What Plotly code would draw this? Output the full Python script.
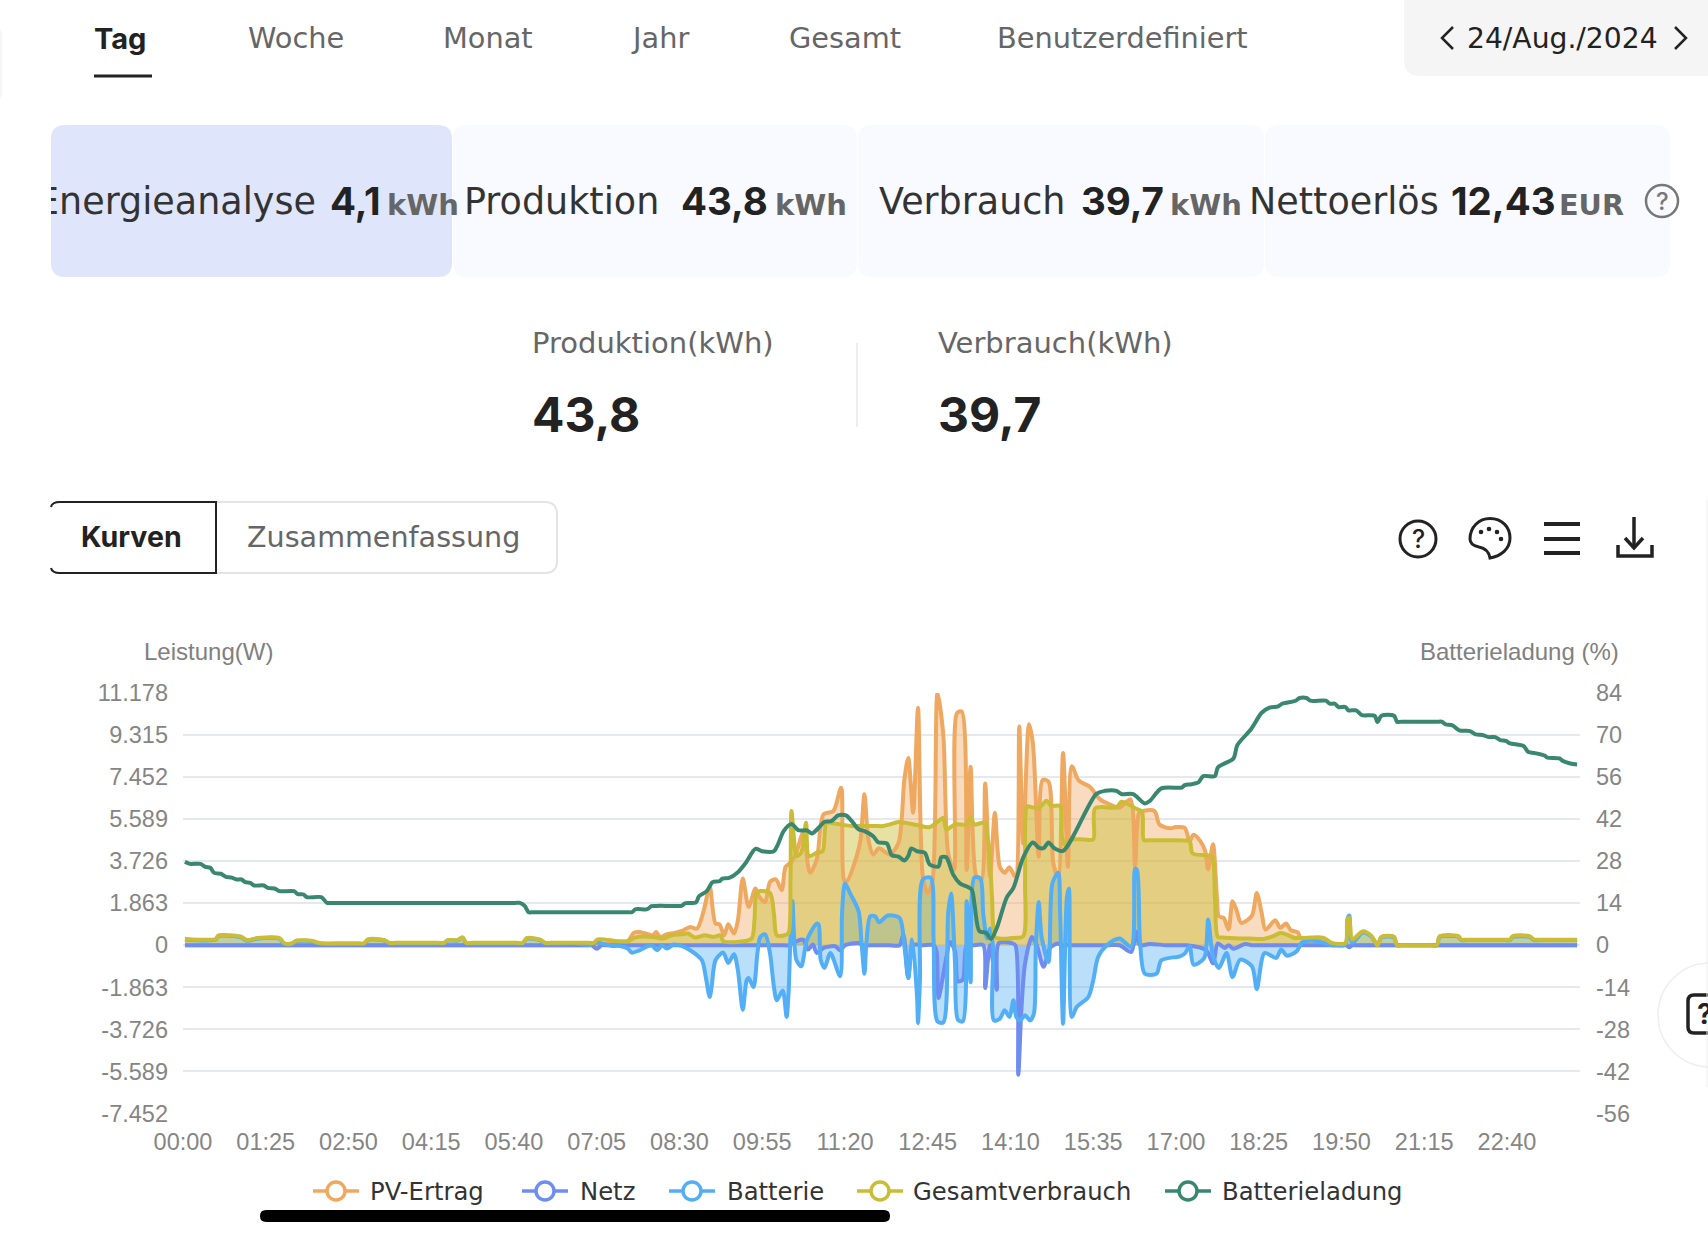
# plot.py
import plotly.graph_objects as go

W, H = 1708, 1236

# tick labels
x_tick_min = [0, 85, 170, 255, 340, 425, 510, 595, 680, 765, 850, 935, 1020, 1105, 1190, 1275, 1360]
x_tick_txt = ["00:00", "01:25", "02:50", "04:15", "05:40", "07:05", "08:30", "09:55", "11:20",
              "12:45", "14:10", "15:35", "17:00", "18:25", "19:50", "21:15", "22:40"]
power_ticks = [-7452, -5589, -3726, -1863, 0, 1863, 3726, 5589, 7452, 9315, 11178]
power_txt = ["-7.452", "-5.589", "-3.726", "-1.863", "0", "1.863", "3.726", "5.589", "7.452", "9.315", "11.178"]
soc_ticks = [-56, -42, -28, -14, 0, 14, 28, 42, 56, 70, 84]
soc_txt = ["-56", "-42", "-28", "-14", "0", "14", "28", "42", "56", "70", "84"]

# PV-Ertrag (minute of day, W)
pv_min = [2, 100, 200, 300, 400, 420, 425, 436, 449, 457, 463, 468, 476, 483, 486, 490, 497, 505, 514, 521, 528, 535, 541, 547,
          551, 556, 560, 566, 570, 575, 581, 588, 592, 598, 603, 609, 615, 619, 625, 630, 637, 644, 651, 658,
          668, 676, 679, 682, 692, 696, 700, 704, 709, 715, 726, 735, 741, 745, 750, 755, 760, 765, 770, 775,
          781, 786, 792, 795, 800, 805, 809, 815, 820, 824, 829, 834, 839, 844, 849, 855, 859, 863, 869, 873,
          879, 883, 889, 894, 899, 904, 909, 913, 920, 932, 942, 952, 962, 973, 978, 982, 986, 998, 1003, 1014,
          1020, 1029, 1034, 1038, 1045, 1050, 1053, 1058, 1062, 1064, 1069, 1074, 1078, 1082, 1087, 1098, 1103,
          1108, 1112, 1122, 1127, 1133, 1138, 1145, 1148, 1158, 1171, 1180, 1186, 1250, 1350, 1426, 1432]
pv_w = [0, 0, 0, 0, 0, 0, 0, 80, 150, 190, 547, 590, 517, 443, 590, 370, 488, 547, 665, 813, 740, 1553, 2590, 960,
        930, 443, 930, 517, 1110, 2960, 1700, 2515, 2145, 1920, 2810, 2915, 2440, 3475, 3700, 4100, 4985, 3210, 3800, 5800,
        5945, 6980, 2900, 2840, 3950, 4690, 6685, 4690, 4020, 4300, 4020, 4540, 7350, 8300, 5870, 10520, 3030, 2300, 2880, 11195,
        9300, 4070, 3330, 10280, 10350, 3330, 7910, 3030, 2880, 7170, 3030, 5870, 3480, 3210, 3450, 3030, 9690, 4510, 9790, 8950,
        3920, 7320, 7250, 3620, 3030, 8520, 3480, 7930, 7300, 7000, 6460, 6240, 6090, 6460, 3500, 5870, 5945, 5945, 5350, 5180,
        5235, 5200, 4610, 4900, 4610, 4170, 3360, 4470, 2170, 1290, 1210, 695, 1950, 1580, 990, 1316, 2320,
        1434, 695, 1110, 770, 960, 665, 577, 325, 280, 250, 0, 0, 0, 0, 0, 0]

# Netz
grid_min = [2, 100, 200, 300, 400, 415, 420, 425, 430, 436, 500, 600, 616, 622, 630, 637, 642, 647, 651, 658, 670, 675, 680,
            694, 699, 710, 725, 736, 740, 745, 750, 760, 771, 774, 776, 784, 788, 793, 796, 801, 805, 812, 822, 824, 829,
            836, 838, 851, 855, 858, 861, 865, 872, 877, 884, 891, 899, 902, 910, 930, 950, 962, 974, 979, 983, 993,
            1010, 1025, 1031, 1051, 1058, 1063, 1070, 1074, 1079, 1091, 1098, 1105, 1150, 1190, 1195, 1198, 1201,
            1207, 1300, 1400, 1432]
grid_w = [0, 0, 0, 0, 0, 0, 0, -160, 0, 0, 0, 0, 0, 0, 177, 250, -192, 30, -340, -118, -44, -222, 0,
          100, 0, 0, 0, 0, 473, -1450, 0, 0, 0, -270, -2337, -562, 148, -266, -1597, -1523, 0, 0, 0, -1893, 0,
          -1967, 100, 100, 0, -5738, -3000, -800, 370, 0, -950, -100, 80, 0, 0, 0, 0, 0, -300, 600, 0, 60,
          0, 0, 0, -220, -800, 80, -118, 0, -160, 60, 0, 0, 0, 0, 0, -90, 0,
          0, 0, 0, 0]

# Batterie
batt_min = [2, 34, 36, 59, 66, 76, 99, 104, 112, 117, 133, 138, 143, 165, 181, 186, 190, 207, 212, 218, 240, 262, 268, 272, 282, 287, 291,
            297, 320, 343, 349, 353, 367, 372, 378, 390, 405, 418, 425, 432, 441, 449, 457, 461, 469, 481, 487, 492, 497, 504, 512, 521, 533,
            537, 541, 543, 547, 555, 560, 566, 570, 575, 579, 581, 586, 590, 593, 598, 603, 607, 610, 616, 620,
            622, 624, 626, 630, 635, 641, 651, 653, 655, 659, 665, 675, 677, 680, 685, 694, 697, 700, 702, 706,
            711, 715, 724, 736, 741, 745, 749, 754, 755, 757, 760, 768, 771, 775, 781, 786, 789, 793, 796, 801,
            805, 809, 813, 819, 822, 826, 829, 832, 833, 839, 844, 849, 853, 856, 860, 865, 870, 874, 876, 879,
            882, 889, 893, 899, 901, 904, 908, 910, 913, 918, 930, 935, 940, 949, 962, 974, 978, 980, 983, 988,
            1000, 1005, 1024, 1029, 1034, 1038, 1049, 1053, 1058, 1064, 1072, 1078, 1086, 1098, 1103, 1111, 1123,
            1128, 1134, 1144, 1149, 1158, 1168, 1178, 1194, 1196, 1198, 1201, 1212, 1221, 1227, 1231, 1244, 1247,
            1252, 1270, 1283, 1288, 1291, 1310, 1313, 1318, 1340, 1358, 1363, 1366, 1383, 1388, 1393, 1410, 1427, 1432]
batt_w = [250, 250, 400, 360, 200, 290, 290, 60, 60, 190, 170, 100, 60, 60, 60, 60, 240, 210, 80, 80, 80, 80, 80, 210, 210, 330, 80,
          80, 80, 80, 80, 290, 220, 80, 80, 80, 80, 20, 120, 60, -30, -30, -150, -325, -222, 0, -222, 0, -148, 30, -30, -222, -665,
          -1405, -2290, -1850, -665, -325, -784, -400, -1110, -2855, -1553, -1450, -1850, -370, 370, 488, -370, -1850, -2440, -2000, -3180,
          -2145, 370, 1950, -636, -930, 250, 960, 917, -636, -1005, -340, -1375, 1435, 2735, 2320, 1508, 104, -1257, 104, 1287,
          1287, 1020, 1316, 1212, -44, -1450, 250, -2260, -3445, -1523, 2914, 2990, 250, -3370, -3416, 1435, 2290, -784, -3300, -3370,
          1950, -1640, 3000, 2960, 1405, 300, 740, -74, -3330, -3254, -2880, -3180, -2440, -3180, -3330, -3100, -3330, -3030, -74, 1920,
          370, -740, 2736, 3210, 1405, -3475, 2145, 2515, -3180, -2736, -2290, -1553, -518, 0, 296, -74, 3400, 3330, 220, -1257,
          -1257, -665, -488, -370, -44, -858, -562, 1139, -488, -1005, -340, -1405, -636, -932, -1937, -340, -562,
          -192, -458, -266, 104, 207, 148, 30, 30, 1139, 1316, 104, 560, 370, 0, 340, 340, 0,
          0, 0, 0, 0, 370, 370, 230, 230, 230, 230, 230, 370, 370, 230, 230, 230, 230, 230]

# Gesamtverbrauch
load_min = [2, 34, 36, 59, 66, 76, 99, 104, 112, 117, 133, 138, 143, 165, 181, 186, 190, 207, 212, 218, 240, 262, 268, 272, 282, 287, 291,
            297, 320, 343, 349, 353, 367, 372, 378, 400, 417, 422, 426, 447, 457, 464, 483, 493, 502, 512, 519, 526, 536, 545, 552, 555, 570, 584,
            587, 589, 593, 603, 607, 610, 618, 622, 624, 625, 628, 630, 635, 640, 643, 651, 657, 661, 668, 688,
            695, 705, 712, 719, 726, 735, 754, 767, 776, 781, 784, 793, 805, 809, 813, 824, 826, 828, 831, 834, 838, 853, 863,
            865, 867, 870, 879, 887, 892, 901, 903, 906, 911, 925, 935, 937, 959, 964, 973, 978, 985, 987, 992, 1010, 1029, 1034,
            1037, 1051, 1057, 1060, 1063, 1068, 1080, 1091, 1096, 1110, 1120, 1127, 1134, 1142, 1171, 1180, 1194, 1196, 1198, 1201,
            1212, 1221, 1227, 1231, 1244, 1247, 1252, 1270, 1283, 1288, 1291, 1310, 1313, 1318, 1340, 1358, 1363, 1366, 1383, 1388, 1393, 1410, 1427, 1432]
load_w = [282, 282, 423, 388, 230, 317, 317, 88, 88, 212, 194, 123, 88, 88, 88, 88, 264, 230, 106, 106, 106, 106, 106, 230, 230, 353, 106,
          106, 106, 106, 106, 317, 247, 106, 106, 106, 106, 106, 264, 176, 180, 340, 370, 296, 444, 488, 518, 340, 444, 370, 444, 180, 148, 296,
          1110, 2290, 2400, 2320, 1400, 444, 444, 547, 2910, 5945, 4540, 3950, 4100, 5430, 3950, 4100, 4170, 5430, 5400, 5280,
          5280, 5280, 5280, 5280, 5354, 5457, 5324, 5235, 5500, 5650, 5130, 5354, 5354, 5650, 5354, 5430, 4840, 4360, 2145, 370, 296, 325, 400,
          2880, 6140, 6140, 6065, 6400, 6170, 6170, 4810, 4440, 4660, 4690, 4690, 6065, 6110, 6360, 6200, 6065, 5916, 4660, 4650, 4650, 4640, 4630,
          4070, 3990, 3920, 2145, 370, 340, 310, 300, 296, 281, 400, 547, 473, 325, 340, 104, 104, 1139, 1213, 251,
          621, 400, 0, 370, 370, 0, 0, 0, 0, 0, 405, 405, 247, 247, 247, 247, 247, 405, 405, 247, 247, 247, 247, 247]

# Batterieladung (%)
soc_min = [2, 7, 18, 23, 28, 32, 39, 44, 50, 55, 60, 64, 69, 73, 83, 87, 94, 99, 114, 118, 124, 127, 142, 148, 153, 200, 250, 300, 341, 346,
           351, 355, 360, 400, 430, 456, 461, 465, 477, 481, 486, 500, 507, 512, 516, 527, 530, 538, 544, 551, 554, 561, 570, 578, 588, 595, 607,
           611, 617, 625, 632, 641, 646, 653, 659, 666, 673, 681, 687, 694, 700, 709, 714, 723, 728, 735, 741,
           745, 748, 754, 762, 767, 776, 779, 784, 791, 798, 810, 813, 818, 825, 830, 836, 846, 853, 863, 873,
           879, 884, 889, 895, 904, 938, 947, 959, 964, 976, 988, 993, 1005, 1026, 1029, 1036, 1043, 1048, 1060,
           1063, 1079, 1083, 1097, 1108, 1116, 1125, 1129, 1143, 1147, 1154, 1158, 1174, 1178, 1183, 1187, 1194,
           1197, 1205, 1211, 1224, 1227, 1231, 1244, 1247, 1252, 1270, 1288, 1293, 1297, 1304, 1311, 1322, 1328, 1335, 1341, 1348,
           1353, 1359, 1363, 1377, 1382, 1388, 1399, 1401, 1414, 1417, 1425, 1432]
soc_pct = [27.8, 27.1, 27.1, 26.1, 25.8, 24.1, 23.8, 22.8, 22.5, 21.9, 21.9, 21, 20.8, 19.9, 19.9, 19.1, 18.9, 18, 18, 17, 16.9, 16, 16, 14.1, 14.1, 14.1, 14.1, 14.1, 14.1, 14.1,
           13.1, 11, 11, 11, 11, 11, 11, 12, 12, 13, 13.1, 13.1, 13.1, 13.1, 14, 14.3, 16.3, 18, 21, 21.3, 22.2, 22.4, 24.3, 27.4, 32.1, 31.3, 31.3,
           33.5, 38, 40.4, 38.3, 38.2, 37.2, 39.1, 41.1, 41.3, 43.2, 43.2, 41.3, 38.6, 38, 36.3, 34.3, 33.9, 30, 29.5, 28.2,
           29.7, 32.2, 31.3, 30.8, 26.9, 26.2, 29.3, 29.3, 23.6, 20.6, 18.6, 13.6, 4.7, 4.1, 2.1, 5.8, 15.8, 19.1, 29.2, 34.2,
           32.5, 32.3, 34.2, 32.3, 31.4, 50.3, 51.4, 51.4, 50.3, 50.3, 47.2, 48, 52.2, 52.5, 53.3, 53.6, 54.2, 56.3, 56.3,
           59.2, 62.2, 66.6, 71.9, 77.4, 79.1, 79.5, 80.4, 81.4, 82.3, 82.3, 81.4, 81.4, 80.4, 80.4, 79.3, 79.3,
           78.2, 78.2, 76.6, 76.4, 74.3, 76.4, 76.4, 74.4, 74.4, 74.4, 74.4, 74.4, 73.5, 73.2, 71.5, 71.3, 70.2, 70, 69.3, 69.3,
           68.3, 68, 67.2, 66.3, 64.3, 64, 63.1, 62.5, 62.2, 61.4, 60.5, 60.2]

series = [
    ("PV-Ertrag", pv_min, pv_w, "#EFA85F", "rgba(239,168,95,0.4)", "y"),
    ("Netz", grid_min, grid_w, "#6F8CF0", "rgba(111,140,240,0.4)", "y"),
    ("Batterie", batt_min, batt_w, "#52AEF5", "rgba(82,174,245,0.4)", "y"),
    ("Gesamtverbrauch", load_min, load_w, "#CABC35", "rgba(202,188,53,0.45)", "y"),
    ("Batterieladung", soc_min, soc_pct, "#3A8770", None, "y2"),
]

UI = "DejaVu Sans"
NUM = "Inter"
AX = "Liberation Sans"
DARK, GRAY = "#222222", "#666666"


def px(x):
    return x / W


def py(y):
    return 1 - y / H


def path(*parts):
    # letters stay, numbers come as x, y pairs in page pixels
    out, is_x = [], True
    for p in parts:
        if isinstance(p, str):
            out.append(p)
            is_x = True
        else:
            out.append(f"{px(p) if is_x else py(p):.5f}")
            is_x = not is_x
    return " ".join(out)


def round_rect(x0, y0, x1, y1, r):
    return path("M", x0 + r, y0, "L", x1 - r, y0, "Q", x1, y0, x1, y0 + r, "L", x1, y1 - r, "Q", x1, y1, x1 - r, y1,
                "L", x0 + r, y1, "Q", x0, y1, x0, y1 - r, "L", x0, y0 + r, "Q", x0, y0, x0 + r, y0, "Z")


shapes, notes = [], []


def shape(d, fill=None, line=None, lw=0):
    shapes.append(dict(type="path", path=d, xref="paper", yref="paper", fillcolor=fill or "rgba(0,0,0,0)",
                       line=dict(color=line or "rgba(0,0,0,0)", width=lw), layer="below"))


def circle(cx, cy, r, fill=None, line=None, lw=0):
    shapes.append(dict(type="circle", xref="paper", yref="paper", x0=px(cx - r), x1=px(cx + r), y0=py(cy + r), y1=py(cy - r),
                       fillcolor=fill or "rgba(0,0,0,0)", line=dict(color=line or "rgba(0,0,0,0)", width=lw), layer="below"))


def text(x, y, s, size, color=DARK, weight=400, anchor="left", family=UI):
    notes.append(dict(x=px(x), y=py(y), xref="paper", yref="paper", text=s, showarrow=False, xanchor=anchor, yanchor="middle",
                      borderpad=0, borderwidth=0, font=dict(family=family, size=size, color=color, weight=weight)))


# tabs
text(94, 38, "Tag", 29, DARK, 700, family=NUM)
for x_, s_ in [(248, "Woche"), (443, "Monat"), (631, "Jahr"), (789, "Gesamt"), (997, "Benutzerdefiniert")]:
    text(x_, 38, s_, 28.8, GRAY, 400)
shape(path("M", 94, 76, "L", 152, 76), line=DARK, lw=3)
shape(round_rect(1404, -20, 1730, 76, 16), fill="#F5F5F5")
text(1467, 38, "24/Aug./2024", 28.2, DARK, 400)
shape(path("M", 1453, 27, "L", 1442, 38, "L", 1453, 49), line=DARK, lw=2.5)
shape(path("M", 1675, 27, "L", 1686, 38, "L", 1675, 49), line=DARK, lw=2.5)
shape(round_rect(-6, 28, 2, 100, 6), fill="#F6F6F6")

# cards
shape(round_rect(51, 125, 452, 277, 14), fill="#DFE6FB")
for x0_, x1_ in [(453, 857), (858, 1264), (1265, 1670)]:
    shape(round_rect(x0_, 125, x1_, 277, 14), fill="#F8FAFF")
text(316, 201, "Energieanalyse", 36.5, "#333333", 400, "right")
notes.append(dict(x=px(20), y=py(201), xref="paper", yref="paper", text=" ", showarrow=False, xanchor="left", yanchor="middle",
                  width=31, height=60, bgcolor="#FFFFFF", borderpad=0, borderwidth=0))
text(330, 201, "4,1", 38.5, DARK, 700, family=NUM)
text(387, 205, "kWh", 29, GRAY, 700)
text(464, 201, "Produktion", 36.5, "#333333", 400)
text(681, 201, "43,8", 38.5, DARK, 700, family=NUM)
text(775, 205, "kWh", 29, GRAY, 700)
text(879, 201, "Verbrauch", 36.5, "#333333", 400)
text(1081, 201, "39,7", 38.5, DARK, 700, family=NUM)
text(1170, 205, "kWh", 29, GRAY, 700)
text(1249, 201, "Nettoerlös", 36.5, "#333333", 400)
text(1451, 201, "12,43", 38.5, DARK, 700, family=NUM)
text(1559, 205, "EUR", 28.7, GRAY, 700)
circle(1662, 201, 16, line="#777777", lw=2.5)
text(1662, 201, "?", 24, "#777777", 500, "center", family=NUM)

# totals
text(532, 343, "Produktion(kWh)", 29, GRAY, 400)
text(532, 414, "43,8", 48, DARK, 700, family=NUM)
shape(path("M", 857, 343, "L", 857, 427), line="#E8E8E8", lw=1.5)
text(938, 343, "Verbrauch(kWh)", 29, GRAY, 400)
text(938, 414, "39,7", 48, DARK, 700, family=NUM)

# segmented control
shape(path("M", 216, 502, "L", 545, 502, "Q", 557, 502, 557, 514, "L", 557, 561, "Q", 557, 573, 545, 573, "L", 216, 573),
      line="#E4E4E4", lw=2)
shape(path("M", 51, 507, "Q", 52, 502, 60, 502, "L", 216, 502, "L", 216, 573, "L", 60, 573, "Q", 52, 573, 51, 568),
      fill="#FFFFFF", line=DARK, lw=2)
text(81, 537, "Kurven", 28.5, DARK, 700, family=NUM)
text(247, 537, "Zusammenfassung", 28.6, GRAY, 400)

# toolbar icons
circle(1418, 539, 18, line=DARK, lw=3)
text(1418, 539, "?", 25, DARK, 500, "center", family=NUM)
shape(path("M", 1470, 539, "C", 1470, 527, 1479, 518.5, 1490, 518.5, "C", 1502, 518.5, 1510, 527, 1510, 538,
           "C", 1510, 549, 1501, 556, 1490, 558, "C", 1489, 552, 1485, 548, 1479, 547, "C", 1474, 546, 1470, 544, 1470, 539, "Z"),
      line=DARK, lw=3)
for cx_, cy_ in [(1481, 532), (1489, 529), (1497, 532), (1501, 539)]:
    circle(cx_, cy_, 2.3, fill=DARK)
for y_ in [524, 539, 553]:
    shape(path("M", 1544, y_, "L", 1580, y_), line=DARK, lw=4)
shape(path("M", 1634, 517, "L", 1634, 548), line=DARK, lw=3.5)
shape(path("M", 1625, 538, "L", 1634, 548, "L", 1643, 538), line=DARK, lw=3.5)
shape(path("M", 1618, 545, "L", 1618, 556, "L", 1652, 556, "L", 1652, 545), line=DARK, lw=3.5)

# axis titles
text(144, 651, "Leistung(W)", 24, "#808080", 400, family=AX)
text(1420, 651, "Batterieladung (%)", 24, "#808080", 400, family=AX)

# legend
legend_pos = [(313, 370), (522, 580), (669, 727), (857, 913), (1165, 1222)]
for (lx_, tx_), s_ in zip(legend_pos, series):
    shape(path("M", lx_, 1191, "L", lx_ + 46, 1191), line=s_[3], lw=3.5)
    circle(lx_ + 23, 1191, 9, fill="#FFFFFF", line=s_[3], lw=3.5)
    text(tx_, 1191, s_[0], 24.3, "#333333", 400)

# phone overlays
shape(round_rect(260, 1210, 890, 1222, 6), fill="#000000")
circle(1710, 1015, 52, fill="#FFFFFF", line="#EEEEEE", lw=1.5)
shape(round_rect(1688, 995, 1730, 1033, 6), line=DARK, lw=3.5)
text(1697, 1014, "?", 28, DARK, 700, family=NUM)
shape(path("M", 1707, 500, "L", 1707, 1087), line="#EEEEEE", lw=1)

fig = go.Figure()
# areas go in first so every line sits on top of all of them
for name, xs, ys, color, fillc, axis in series:
    if fillc:
        fig.add_trace(go.Scatter(
            x=xs, y=ys, name=name, yaxis=axis, mode="lines", showlegend=False, hoverinfo="skip",
            line=dict(color="rgba(0,0,0,0)", width=0, shape="spline", smoothing=0.8),
            fill="tozeroy", fillcolor=fillc,
        ))
for name, xs, ys, color, fillc, axis in series:
    fig.add_trace(go.Scatter(
        x=xs, y=ys, name=name, yaxis=axis, mode="lines", showlegend=False,
        line=dict(color=color, width=4, shape="spline", smoothing=0.8),
        hovertemplate="%{x}: %{y}<extra>" + name + "</extra>",
    ))

tick_font = dict(family=AX, size=23.5, color="#858585")
y_domain = [py(1113.5), py(692.9)]
fig.update_layout(
    width=W, height=H, autosize=False, margin=dict(l=0, r=0, t=0, b=0, pad=0, autoexpand=False),
    paper_bgcolor="#FFFFFF", plot_bgcolor="#FFFFFF", showlegend=False,
    shapes=shapes, annotations=notes,
    xaxis=dict(domain=[px(183), px(1580)], range=[0, 1435], tickmode="array", tickvals=x_tick_min, ticktext=x_tick_txt,
               showgrid=False, zeroline=False, showline=False, ticks="", tickfont=tick_font, ticklabelstandoff=12,
               anchor="y"),
    yaxis=dict(domain=y_domain, range=[-7452, 11178], tickmode="array", tickvals=power_ticks, ticktext=power_txt,
               showgrid=True, gridcolor="#E6E8EE", gridwidth=1.5, zeroline=False, showline=False, ticks="",
               tickfont=tick_font, ticklabelstandoff=14),
    yaxis2=dict(domain=y_domain, range=[-56, 84], tickmode="array", tickvals=soc_ticks, ticktext=soc_txt,
                overlaying="y", side="right", anchor="x", showgrid=False, zeroline=False, showline=False, ticks="",
                tickfont=tick_font, ticklabelstandoff=15),
)

fig.write_html("out.html", config=dict(displayModeBar=False),
               post_script="document.body.style.margin='0';document.documentElement.style.overflow='hidden';")
